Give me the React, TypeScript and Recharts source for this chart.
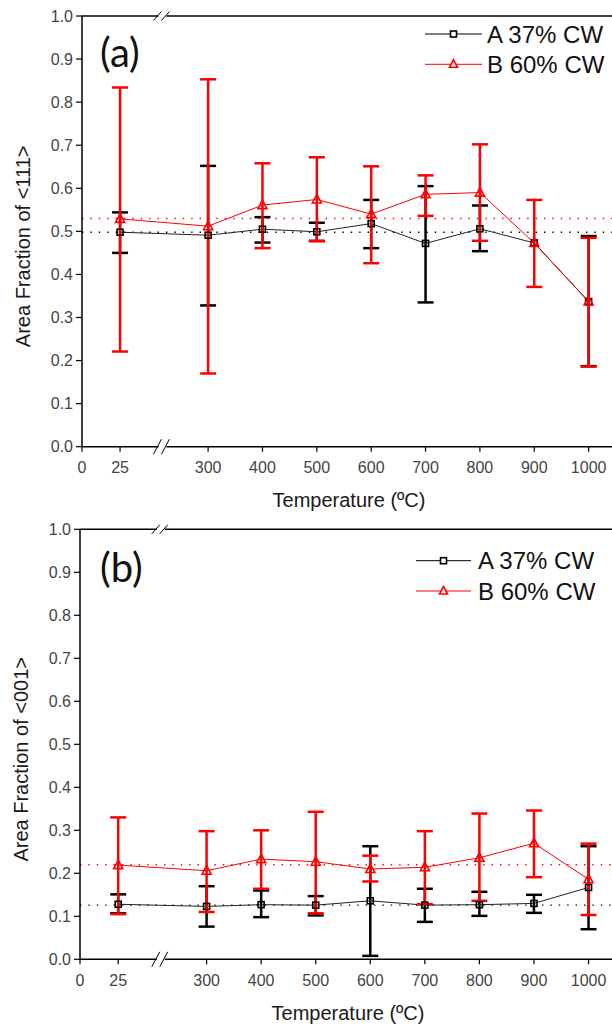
import React from "react";
import {
  LineChart,
  Line,
  XAxis,
  YAxis,
  ErrorBar,
  ReferenceLine,
  ReferenceDot,
} from "recharts";

// annealing temperatures (ºC)
const TEMPS = [25, 300, 400, 500, 600, 700, 800, 900, 1000];
const X_TICK_TEMPS = [0, 25, 300, 400, 500, 600, 700, 800, 900, 1000];
const Y_TICKS = [0, 0.1, 0.2, 0.3, 0.4, 0.5, 0.6, 0.7, 0.8, 0.9, 1.0];

// (a) area fraction of <111>
const A111_MEAN = [0.498, 0.491, 0.505, 0.499, 0.518, 0.472, 0.506, 0.473, 0.337];
const A111_LOW = [0.45, 0.328, 0.474, 0.478, 0.461, 0.335, 0.454, null, 0.187];
const A111_HIGH = [0.544, 0.652, 0.533, 0.52, 0.573, 0.605, 0.56, null, 0.489];
const B111_MEAN = [0.529, 0.512, 0.561, 0.574, 0.54, 0.586, 0.59, 0.473, 0.337];
const B111_LOW = [0.221, 0.17, 0.461, 0.477, 0.426, 0.536, 0.478, 0.371, 0.186];
const B111_HIGH = [0.834, 0.853, 0.658, 0.672, 0.651, 0.63, 0.702, 0.573, 0.485];
const A111_AVG = 0.498;
const B111_AVG = 0.53;

// (b) area fraction of <001>
const A001_MEAN = [0.128, 0.123, 0.127, 0.126, 0.136, 0.126, 0.127, 0.13, 0.167];
const A001_LOW = [0.107, 0.076, 0.098, 0.102, 0.008, 0.087, 0.101, 0.108, 0.07];
const A001_HIGH = [0.151, 0.17, 0.16, 0.147, 0.263, 0.164, 0.157, 0.15, 0.263];
const B001_MEAN = [0.219, 0.206, 0.233, 0.227, 0.21, 0.214, 0.236, 0.27, 0.186];
const B001_LOW = [0.105, 0.11, 0.164, 0.107, 0.181, 0.128, 0.136, 0.191, 0.103];
const B001_HIGH = [0.33, 0.298, 0.3, 0.343, 0.241, 0.298, 0.339, 0.346, 0.269];
const A001_AVG = 0.126;
const B001_AVG = 0.22;

const FONT = "'Liberation Sans', Arial, sans-serif";
const RED = "#ff0000";
const BLACK = "#000000";

// broken axis: 0-25 is stretched, 300+ is linear
const BREAK_POS = 216;
const toAxis = (t: number) => (t >= 300 ? t : 68 + t * 2.8);
const X_DOMAIN: [number, number] = [68, 1043];
const X_TICKS = X_TICK_TEMPS.map(toAxis);
const tickLabel = (v: number) => {
  const i = X_TICKS.findIndex((p) => Math.abs(p - v) < 0.01);
  return i >= 0 ? String(X_TICK_TEMPS[i]) : "";
};

const errPair = (mean: number, lo: number | null, hi: number | null) =>
  lo == null || hi == null ? null : [mean - lo, hi - mean];

function buildRows(
  aMean: number[], aLow: (number | null)[], aHigh: (number | null)[],
  bMean: number[], bLow: number[], bHigh: number[]
) {
  return TEMPS.map((t, i) => ({
    pos: toAxis(t),
    a: aMean[i],
    b: bMean[i],
    errA: errPair(aMean[i], aLow[i], aHigh[i]),
    errB: errPair(bMean[i], bLow[i], bHigh[i]),
  }));
}

const SquareDot = (p: any) => {
  if (p.cx == null || p.cy == null) return <g key={p.index} />;
  return (
    <rect key={`s${p.index}`} x={p.cx - 3} y={p.cy - 3} width={6} height={6}
      fill="none" stroke={BLACK} strokeWidth={1.6} />
  );
};

const TriangleDot = (p: any) => {
  if (p.cx == null || p.cy == null) return <g key={p.index} />;
  const { cx, cy } = p;
  return (
    <path key={`t${p.index}`} d={`M${cx},${cy - 5} L${cx + 4.5},${cy + 3.5} L${cx - 4.5},${cy + 3.5} Z`}
      fill="none" stroke={RED} strokeWidth={1.6} />
  );
};

const BreakMark = (big: boolean) => (p: any) => {
  const { cx, cy } = p;
  if (cx == null || cy == null) return <g />;
  const h = big ? 7.5 : 4.5;
  return (
    <g>
      <rect x={cx - 4} y={cy - 2} width={8} height={4} fill="#fff" />
      <line x1={cx - 9} y1={cy + h} x2={cx - 1} y2={cy - h} stroke={BLACK} strokeWidth={1} />
      <line x1={cx - 1} y1={cy + h} x2={cx + 7} y2={cy - h} stroke={BLACK} strokeWidth={1} />
    </g>
  );
};

const XTitle = (p: any) => {
  const vb = p.viewBox || {};
  return (
    <text x={vb.x + vb.width / 2 + 2} y={vb.y + 60.5} textAnchor="middle"
      fontFamily={FONT} fontSize={20} fill="#1a1a1a">
      Temperature (ºC)
    </text>
  );
};

const makeYTitle = (title: string, cx: number) => (p: any) => {
  const vb = p.viewBox || {};
  const cy = vb.y + vb.height / 2 + 15;
  const bx = cx + 7;
  return (
    <text x={bx} y={cy} transform={`rotate(-90 ${bx} ${cy})`} textAnchor="middle"
      fontFamily={FONT} fontSize={20} fill="#1a1a1a">
      {title}
    </text>
  );
};

interface PanelProps {
  rows: any[];
  avgA: number;
  avgB: number;
  yTitle: string;
  yTitleX: number;
  top: number;
  height: number;
  marginTop: number;
  yAxisWidth: number;
  xAxisHeight: number;
}

function Panel({ rows, avgA, avgB, yTitle, yTitleX, top, height, marginTop, yAxisWidth, xAxisHeight }: PanelProps) {
  const tick = { fill: "#444", fontSize: 16, fontFamily: FONT };
  return (
    <div style={{ position: "absolute", left: 0, top, width: 612, height }}>
      <LineChart width={612} height={height} data={rows}
        margin={{ top: marginTop, right: 0, bottom: 0, left: 0 }}>
        <XAxis dataKey="pos" type="number" domain={X_DOMAIN} ticks={X_TICKS}
          allowDataOverflow interval={0} tickFormatter={tickLabel} tick={tick}
          tickSize={5} tickMargin={10} height={xAxisHeight}
          axisLine={{ stroke: BLACK, strokeWidth: 1.5 }} tickLine={{ stroke: BLACK, strokeWidth: 1.2 }}
          label={{ content: XTitle }} />
        <YAxis type="number" domain={[0, 1]} ticks={Y_TICKS} interval={0}
          tickFormatter={(v: number) => v.toFixed(1)} tick={tick} tickSize={6} tickMargin={3}
          width={yAxisWidth} axisLine={{ stroke: BLACK, strokeWidth: 1.5 }}
          tickLine={{ stroke: BLACK, strokeWidth: 1.2 }}
          label={{ content: makeYTitle(yTitle, yTitleX) }} />
        <ReferenceLine y={1} stroke={BLACK} strokeWidth={1.5} />
        <ReferenceLine y={avgA} stroke={BLACK} strokeWidth={1.4} strokeDasharray="1.4 7" />
        <ReferenceLine y={avgB} stroke={RED} strokeWidth={1.4} strokeDasharray="1.4 7" />
        <Line dataKey="a" stroke="#222" strokeWidth={1} dot={SquareDot}
          activeDot={false} isAnimationActive={false}>
          <ErrorBar dataKey="errA" direction="y" width={8} strokeWidth={2.5}
            stroke={BLACK} isAnimationActive={false} />
        </Line>
        <Line dataKey="b" stroke={RED} strokeWidth={1} dot={TriangleDot}
          activeDot={false} isAnimationActive={false}>
          <ErrorBar dataKey="errB" direction="y" width={8} strokeWidth={2.5}
            stroke={RED} isAnimationActive={false} />
        </Line>
        <ReferenceDot x={BREAK_POS} y={0} r={0} shape={BreakMark(true)} />
        <ReferenceDot x={BREAK_POS} y={1} r={0} shape={BreakMark(false)} />
      </LineChart>
    </div>
  );
}

function LegendBlock({ x0, x1, y1, y2, tx, label }: any) {
  const mid = (x0 + x1) / 2;
  return (
    <g>
      <text x={100} y={label.y} fontFamily="Lato, 'Open Sans', sans-serif" fontSize={40} fill="#111">
        {label.text}
      </text>
      <line x1={x0} y1={y1} x2={x1} y2={y1} stroke={BLACK} strokeWidth={1} />
      <rect x={mid - 3} y={y1 - 3} width={6} height={6} fill="#fff" stroke={BLACK} strokeWidth={1.6} />
      <text x={tx} y={y1 + 8.6} fontFamily={FONT} fontSize={24} fill="#111">A 37% CW</text>
      <line x1={x0} y1={y2} x2={x1} y2={y2} stroke={RED} strokeWidth={1} />
      <path d={`M${mid},${y2 - 4.5} L${mid + 4},${y2 + 3} L${mid - 4},${y2 + 3} Z`}
        fill="#fff" stroke={RED} strokeWidth={1.6} />
      <text x={tx} y={y2 + 8.6} fontFamily={FONT} fontSize={24} fill="#111">B 60% CW</text>
    </g>
  );
}

export default function App() {
  const rows111 = buildRows(A111_MEAN, A111_LOW, A111_HIGH, B111_MEAN, B111_LOW, B111_HIGH);
  const rows001 = buildRows(A001_MEAN, A001_LOW, A001_HIGH, B001_MEAN, B001_LOW, B001_HIGH);
  return (
    <div style={{ position: "absolute", left: 0, top: 0, width: 612, height: 1029, background: "#fff" }}>
      <Panel rows={rows111} avgA={A111_AVG} avgB={B111_AVG} yTitle="Area Fraction of <111>"
        yTitleX={23} top={0} height={520} marginTop={16} yAxisWidth={82} xAxisHeight={73.3} />
      <Panel rows={rows001} avgA={A001_AVG} avgB={B001_AVG} yTitle="Area Fraction of <001>"
        yTitleX={21.5} top={510} height={519} marginTop={19.3} yAxisWidth={80} xAxisHeight={69.7} />
      <svg width={612} height={1029} style={{ position: "absolute", left: 0, top: 0, pointerEvents: "none" }}>
        <LegendBlock x0={425} x1={482} y1={34} y2={64.3} tx={487} label={{ text: "(a)", y: 67 }} />
        <LegendBlock x0={416} x1={471} y1={560.7} y2={591} tx={478} label={{ text: "(b)", y: 582 }} />
      </svg>
    </div>
  );
}
